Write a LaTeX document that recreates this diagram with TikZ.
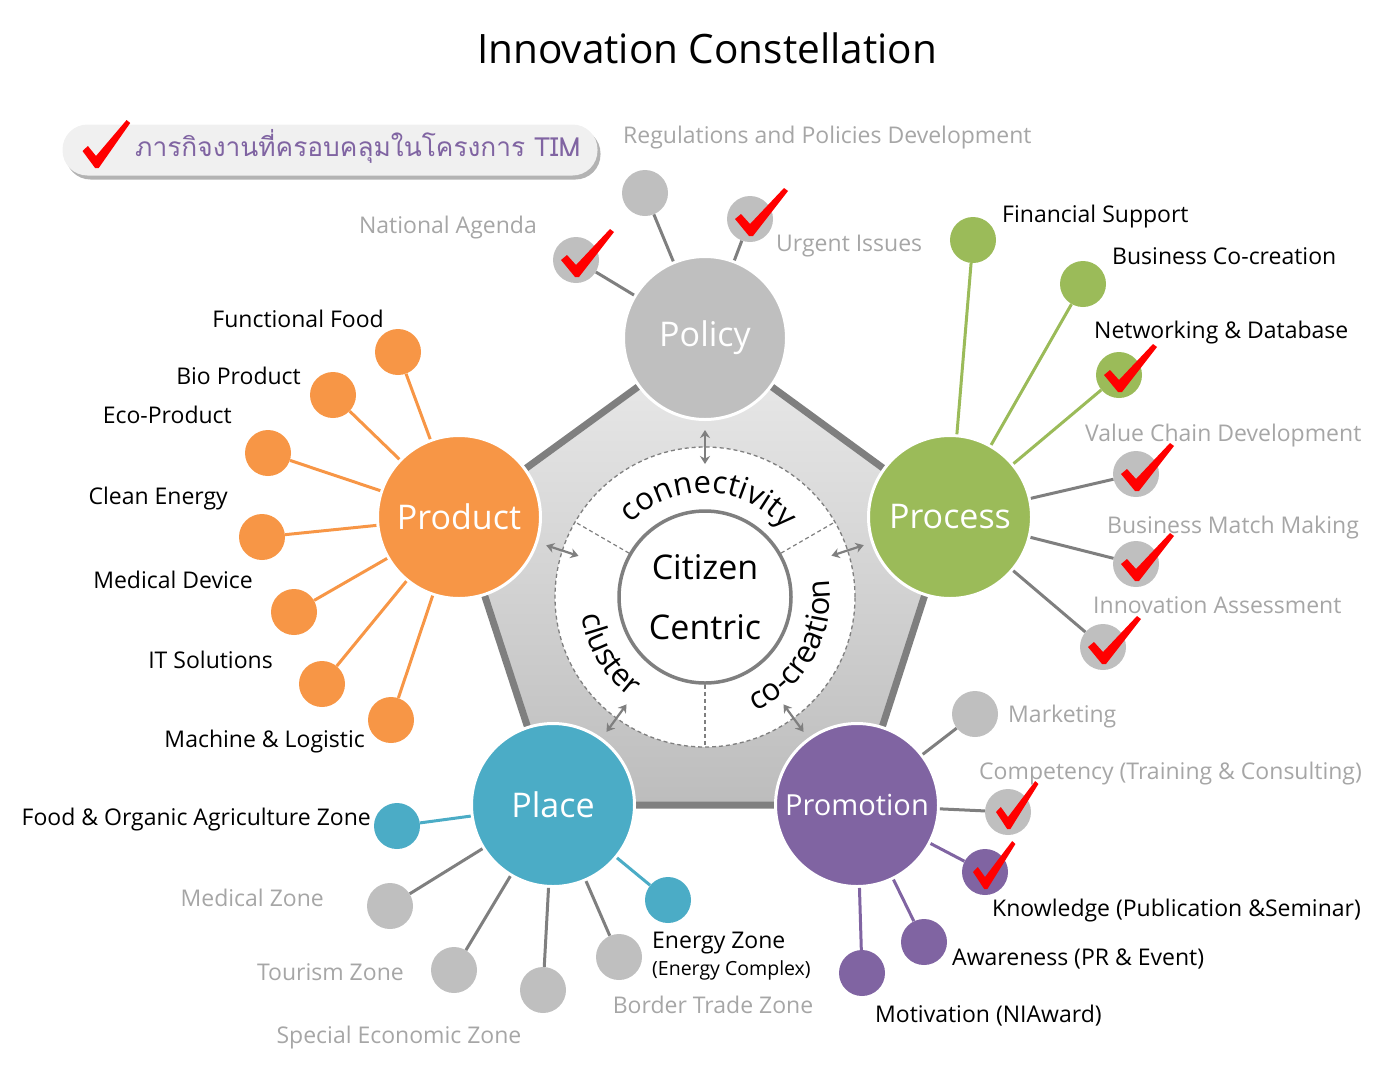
\documentclass[tikz,border=0pt]{standalone}
\usepackage{fontspec}
\setmainfont{Open Sans}
\newfontfamily\thaifont[Script=Thai]{Loma}
\usetikzlibrary{arrows.meta, positioning, calc, decorations.text, shadows}

\definecolor{hubgray}{HTML}{BFBFBF}
\definecolor{linkgray}{HTML}{7F7F7F}
\definecolor{lblgray}{HTML}{A6A6A6}
\definecolor{prodorange}{HTML}{F79646}
\definecolor{procgreen}{HTML}{9BBB59}
\definecolor{placeblue}{HTML}{4BACC6}
\definecolor{promopurple}{HTML}{8064A2}
\definecolor{pillgray}{HTML}{F0F0F0}

\newcommand{\fsz}[1]{\fontsize{#1}{#1}\selectfont}

\tikzset{
  hub/.style     = {circle, draw=white, line width=3pt, minimum size=163pt,
                    inner sep=0pt, text=white, font=\fsz{34}},
  leaf/.style    = {circle, minimum size=46pt, inner sep=0pt, fill=hubgray},
  link/.style    = {line width=3pt, linkgray},
  lbl/.style     = {font=\fsz{23}, inner sep=0pt},
  glbl/.style    = {lbl, text=lblgray},
  ringtxt/.style = {decorate, decoration={text along path, text align=center,
                    text={|\fsz{31}|#1}}},
  dblarr/.style  = {{Stealth[length=8pt, width=10pt]}-{Stealth[length=8pt, width=10pt]},
                    linkgray, line width=2.2pt},
  divider/.style = {linkgray, line width=1.2pt, dash pattern=on 4pt off 3pt},
  pill/.style    = {fill=pillgray, rounded corners=25pt, minimum width=535pt,
                    minimum height=51pt,
                    drop shadow={shadow xshift=3pt, shadow yshift=-4pt,
                                 fill=black!50, opacity=.6}},
  redtick/.pic   = {\fill[red] (-15,0) -- (-9,-5) -- (0,5) -- (34,-31)
                    -- (38,-28) -- (3,17) -- (-1,17) -- cycle;}
}

\begin{document}
\begin{tikzpicture}[x=1pt, y=-1pt]
  \useasboundingbox (0,0) rectangle (1386,1077);

  % ── Title and legend ─────────────────────────────────────────────────────
  \node[font=\fsz{40.5}] (title) at (707,48) {Innovation Constellation};
  \node[pill] (legend) at (330,150) {};
  \pic[xscale=.9] at (96,151) {redtick};
  \node[anchor=base west, inner sep=0pt, text=promopurple,
        font=\thaifont\fsz{26.3}] (legendtxt) at (135,156)
        {ภารกิจงานที่ครอบคลุมในโครงการ TIM};

  % ── Pentagon of the five hubs ────────────────────────────────────────────
  \coordinate (cPol)   at (705,338);
  \coordinate (cProc)  at (950,517);
  \coordinate (cPromo) at (857,805);
  \coordinate (cPlace) at (553,805);
  \coordinate (cProd)  at (459,517);
  \path[draw=linkgray, line width=7pt, top color=black!8, bottom color=black!26]
    (cPol) -- (cProc) -- (cPromo) -- (cPlace) -- (cProd) -- cycle;

  % ── Centre ring ──────────────────────────────────────────────────────────
  \node[circle, draw=linkgray, line width=1.3pt, dash pattern=on 4pt off 3pt,
        fill=white, minimum size=300pt] (ring) at (705,597) {};
  \node[circle, draw=linkgray, line width=3.5pt, fill=white, minimum size=172pt,
        inner sep=0pt, align=center, font=\fontsize{34}{60}\selectfont]
        (core) at (705,597) {Citizen\\Centric};
  \draw[divider] (core.150) -- (ring.150);
  \draw[divider] (core.30)  -- (ring.30);
  \draw[divider] (core.270) -- (ring.270);
  \path[ringtxt=connectivity] ($(ring.center)+(-148:104)$) arc (-148:-28:104);
  \path[ringtxt=cluster]      ($(ring.center)+(209:125)$)  arc (209:89:125);
  \path[ringtxt=co-creation]  ($(ring.center)+(89:125)$)   arc (89:-31:125);

  % ── Hubs ─────────────────────────────────────────────────────────────────
  \node[hub, fill=hubgray]     (policy)  at (cPol)   {Policy};
  \node[hub, fill=procgreen]   (process) at (cProc)  {Process};
  \node[hub, fill=promopurple, font=\fsz{29}] (promo) at (cPromo) {Promotion};
  \node[hub, fill=placeblue]   (place)   at (cPlace) {Place};
  \node[hub, fill=prodorange]  (product) at (cProd)  {Product};

  % ring <-> hub arrows
  \draw[dblarr] ($(ring.center)!133pt!(policy.center)$)  -- ($(ring.center)!167pt!(policy.center)$);
  \draw[dblarr] ($(ring.center)!133pt!(process.center)$) -- ($(ring.center)!167pt!(process.center)$);
  \draw[dblarr] ($(ring.center)!133pt!(promo.center)$)   -- ($(ring.center)!167pt!(promo.center)$);
  \draw[dblarr] ($(ring.center)!133pt!(place.center)$)   -- ($(ring.center)!167pt!(place.center)$);
  \draw[dblarr] ($(ring.center)!133pt!(product.center)$) -- ($(ring.center)!167pt!(product.center)$);

  % ── Policy leaves ────────────────────────────────────────────────────────
  \node[leaf] (regdev) at (645,193) {};
  \node[leaf] (agenda) at (576,260) {};
  \node[leaf] (urgent) at (750,219) {};
  \draw[link] (regdev) -- (policy);
  \draw[link] (agenda) -- (policy);
  \draw[link] (urgent) -- (policy);
  \pic at (agenda) {redtick};
  \pic at (urgent) {redtick};
  \node[glbl, anchor=base west] (regdevlbl) at (623,143) {Regulations and Policies Development};
  \node[glbl, anchor=base east] (agendalbl) at (537,233) {National Agenda};
  \node[glbl, anchor=base west] (urgentlbl) at (776,251) {Urgent Issues};

  % ── Product leaves ───────────────────────────────────────────────────────
  \node[leaf, fill=prodorange] (ffood)   at (398,352) {};
  \node[leaf, fill=prodorange] (bio)     at (333,395) {};
  \node[leaf, fill=prodorange] (eco)     at (268,453) {};
  \node[leaf, fill=prodorange] (clean)   at (262,537) {};
  \node[leaf, fill=prodorange] (meddev)  at (294,612) {};
  \node[leaf, fill=prodorange] (itsol)   at (322,684) {};
  \node[leaf, fill=prodorange] (machine) at (391,720) {};
  \draw[link, prodorange] (ffood)   -- (product);
  \draw[link, prodorange] (bio)     -- (product);
  \draw[link, prodorange] (eco)     -- (product);
  \draw[link, prodorange] (clean)   -- (product);
  \draw[link, prodorange] (meddev)  -- (product);
  \draw[link, prodorange] (itsol)   -- (product);
  \draw[link, prodorange] (machine) -- (product);
  \node[lbl, anchor=base east] (ffoodlbl)   at (384,327) {Functional Food};
  \node[lbl, anchor=base east] (biolbl)     at (301,384) {Bio Product};
  \node[lbl, anchor=base east] (ecolbl)     at (232,423) {Eco-Product};
  \node[lbl, anchor=base east] (cleanlbl)   at (228,504) {Clean Energy};
  \node[lbl, anchor=base east] (meddevlbl)  at (253,588) {Medical Device};
  \node[lbl, anchor=base east] (itsollbl)   at (273,668) {IT Solutions};
  \node[lbl, anchor=base east] (machinelbl) at (365,747) {Machine \& Logistic};

  % ── Process leaves ───────────────────────────────────────────────────────
  \node[leaf, fill=procgreen] (finance) at (973,240)  {};
  \node[leaf, fill=procgreen] (bizco)   at (1083,284) {};
  \node[leaf, fill=procgreen] (network) at (1119,375) {};
  \node[leaf] (valuechain) at (1136,474) {};
  \node[leaf] (match)      at (1136,564) {};
  \node[leaf] (assess)     at (1103,647) {};
  \draw[link, procgreen] (finance) -- (process);
  \draw[link, procgreen] (bizco)   -- (process);
  \draw[link, procgreen] (network) -- (process);
  \draw[link] (valuechain) -- (process);
  \draw[link] (match)      -- (process);
  \draw[link] (assess)     -- (process);
  \pic at (network)    {redtick};
  \pic at (valuechain) {redtick};
  \pic at (match)      {redtick};
  \pic at (assess)     {redtick};
  \node[lbl,  anchor=base west] (financelbl) at (1002,222) {Financial Support};
  \node[lbl,  anchor=base west] (bizcolbl)   at (1112,264) {Business Co-creation};
  \node[lbl,  anchor=base west] (networklbl) at (1094,338) {Networking \& Database};
  \node[glbl, anchor=base west] (valuelbl)   at (1085,441) {Value Chain Development};
  \node[glbl, anchor=base west] (matchlbl)   at (1107,533) {Business Match Making};
  \node[glbl, anchor=base west] (assesslbl)  at (1093,613) {Innovation Assessment};

  % ── Place leaves ─────────────────────────────────────────────────────────
  \node[leaf, fill=placeblue] (foodzone) at (397,826) {};
  \node[leaf] (medzone)  at (390,906) {};
  \node[leaf] (tourzone) at (454,970) {};
  \node[leaf] (sez)      at (543,990) {};
  \node[leaf] (border)   at (619,957) {};
  \node[leaf, fill=placeblue] (energy) at (668,900) {};
  \draw[link, placeblue] (foodzone) -- (place);
  \draw[link] (medzone)  -- (place);
  \draw[link] (tourzone) -- (place);
  \draw[link] (sez)      -- (place);
  \draw[link] (border)   -- (place);
  \draw[link, placeblue] (energy) -- (place);
  \node[lbl,  anchor=base east] (foodlbl)   at (371,825) {Food \& Organic Agriculture Zone};
  \node[glbl, anchor=base east] (medlbl)    at (324,906) {Medical Zone};
  \node[glbl, anchor=base east] (tourlbl)   at (404,980) {Tourism Zone};
  \node[glbl, anchor=base]      (sezlbl)    at (399,1043) {Special Economic Zone};
  \node[glbl, anchor=base]      (borderlbl) at (713,1013) {Border Trade Zone};
  \node[lbl,  anchor=base west] (energylbl) at (652,948) {Energy Zone};
  \node[lbl,  anchor=base west, font=\fsz{19.5}] (energysub) at (652,975) {(Energy Complex)};

  % ── Promotion leaves ─────────────────────────────────────────────────────
  \node[leaf] (marketing)  at (975,714)  {};
  \node[leaf] (competency) at (1008,812) {};
  \node[leaf, fill=promopurple] (knowledge)  at (985,872) {};
  \node[leaf, fill=promopurple] (awareness)  at (924,942) {};
  \node[leaf, fill=promopurple] (motivation) at (862,973) {};
  \draw[link] (marketing)  -- (promo);
  \draw[link] (competency) -- (promo);
  \draw[link, promopurple] (knowledge)  -- (promo);
  \draw[link, promopurple] (awareness)  -- (promo);
  \draw[link, promopurple] (motivation) -- (promo);
  \pic[xscale=.8] at (competency) {redtick};
  \pic[xscale=.8] at (knowledge)  {redtick};
  \node[glbl, anchor=base west] (marketlbl) at (1008,722)  {Marketing};
  \node[glbl, anchor=base west] (complbl)   at (979,779)   {Competency (Training \& Consulting)};
  \node[lbl,  anchor=base west] (knowlbl)   at (992,916)   {Knowledge (Publication \&Seminar)};
  \node[lbl,  anchor=base west] (awarelbl)  at (952,965)   {Awareness (PR \& Event)};
  \node[lbl,  anchor=base west] (motivlbl)  at (875,1022)  {Motivation (NIAward)};

\end{tikzpicture}
\end{document}
